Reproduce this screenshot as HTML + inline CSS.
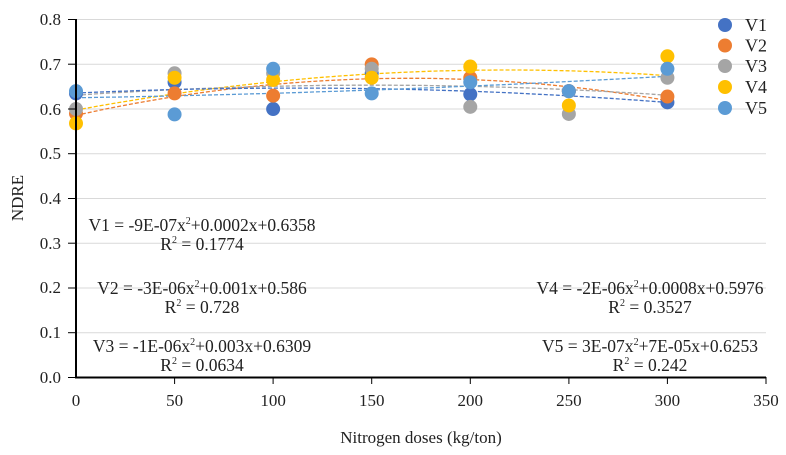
<!DOCTYPE html>
<html><head><meta charset="utf-8"><style>
html,body{margin:0;padding:0;background:#fff;}
svg{display:block;}
text{font-family:"Liberation Serif","Times New Roman",serif;}
</style></head><body>
<svg id="c" width="786" height="455" viewBox="0 0 786 455" xmlns="http://www.w3.org/2000/svg" font-family="Liberation Serif, serif">
<g stroke="#d9d9d9" stroke-width="1">
<line x1="76" y1="19.5" x2="766" y2="19.5"/>
<line x1="76" y1="64.2" x2="766" y2="64.2"/>
<line x1="76" y1="109" x2="766" y2="109"/>
<line x1="76" y1="153.7" x2="766" y2="153.7"/>
<line x1="76" y1="198.5" x2="766" y2="198.5"/>
<line x1="76" y1="243.2" x2="766" y2="243.2"/>
<line x1="76" y1="288" x2="766" y2="288"/>
<line x1="76" y1="332.7" x2="766" y2="332.7"/>
</g>
<g id="trend" fill="none" stroke-width="1.3" stroke-dasharray="4,2"></g>
<g id="pts"></g>
<g stroke="#000" stroke-width="2">
<line x1="76" y1="19" x2="76" y2="378"/>
<line x1="75" y1="377.5" x2="766" y2="377.5"/>
</g>
<g stroke="#000" stroke-width="1">
<line x1="68" y1="19.5" x2="76" y2="19.5"/><line x1="68" y1="64.2" x2="76" y2="64.2"/>
<line x1="68" y1="109" x2="76" y2="109"/><line x1="68" y1="153.7" x2="76" y2="153.7"/>
<line x1="68" y1="198.5" x2="76" y2="198.5"/><line x1="68" y1="243.2" x2="76" y2="243.2"/>
<line x1="68" y1="288" x2="76" y2="288"/><line x1="68" y1="332.7" x2="76" y2="332.7"/>
<line x1="68" y1="377.5" x2="76" y2="377.5"/>
<line x1="174.6" y1="377" x2="174.6" y2="384"/><line x1="273.1" y1="377" x2="273.1" y2="384"/>
<line x1="371.7" y1="377" x2="371.7" y2="384"/><line x1="470.3" y1="377" x2="470.3" y2="384"/>
<line x1="568.9" y1="377" x2="568.9" y2="384"/><line x1="667.4" y1="377" x2="667.4" y2="384"/>
<line x1="766" y1="377" x2="766" y2="384"/>
</g>
<g font-size="17" fill="#222" text-anchor="end">
<text x="61" y="25">0.8</text><text x="61" y="70">0.7</text><text x="61" y="115">0.6</text>
<text x="61" y="159">0.5</text><text x="61" y="204">0.4</text><text x="61" y="249">0.3</text>
<text x="61" y="293">0.2</text><text x="61" y="338">0.1</text><text x="61" y="383">0.0</text>
</g>
<g font-size="17" fill="#222" text-anchor="middle">
<text x="76" y="406">0</text><text x="174.6" y="406">50</text><text x="273.1" y="406">100</text>
<text x="371.7" y="406">150</text><text x="470.3" y="406">200</text><text x="568.9" y="406">250</text>
<text x="667.4" y="406">300</text><text x="766" y="406">350</text>
<text x="421" y="443">Nitrogen doses (kg/ton)</text>
<text transform="translate(23,198) rotate(-90)">NDRE</text>
</g>
<g font-size="17.5" fill="#222" text-anchor="middle">
<text x="202" y="231">V1 = -9E-07x<tspan font-size="10" dy="-7">2</tspan><tspan dy="7">+0.0002x+0.6358</tspan></text>
<text x="202" y="250">R<tspan font-size="10" dy="-7">2</tspan><tspan dy="7"> = 0.1774</tspan></text>
<text x="202" y="294">V2 = -3E-06x<tspan font-size="10" dy="-7">2</tspan><tspan dy="7">+0.001x+0.586</tspan></text>
<text x="202" y="313">R<tspan font-size="10" dy="-7">2</tspan><tspan dy="7"> = 0.728</tspan></text>
<text x="202" y="352">V3 = -1E-06x<tspan font-size="10" dy="-7">2</tspan><tspan dy="7">+0.003x+0.6309</tspan></text>
<text x="202" y="371">R<tspan font-size="10" dy="-7">2</tspan><tspan dy="7"> = 0.0634</tspan></text>
<text x="650" y="294">V4 = -2E-06x<tspan font-size="10" dy="-7">2</tspan><tspan dy="7">+0.0008x+0.5976</tspan></text>
<text x="650" y="313">R<tspan font-size="10" dy="-7">2</tspan><tspan dy="7"> = 0.3527</tspan></text>
<text x="650" y="352">V5 = 3E-07x<tspan font-size="10" dy="-7">2</tspan><tspan dy="7">+7E-05x+0.6253</tspan></text>
<text x="650" y="371">R<tspan font-size="10" dy="-7">2</tspan><tspan dy="7"> = 0.242</tspan></text>
</g>
<g font-size="18" fill="#222">
<circle cx="725" cy="25" r="7" fill="#4472c4"/><text x="745" y="31">V1</text>
<circle cx="725" cy="45.5" r="7" fill="#ed7d31"/><text x="745" y="51.5">V2</text>
<circle cx="725" cy="66" r="7" fill="#a5a5a5"/><text x="745" y="72">V3</text>
<circle cx="725" cy="87" r="7" fill="#ffc000"/><text x="745" y="93">V4</text>
<circle cx="725" cy="108" r="7" fill="#5b9bd5"/><text x="745" y="114">V5</text>
</g>
<script>
(function(){
var X=function(v){return 76+v*1.9714;},Y=function(v){return 377.5-v*447.4;};
var col={V1:"#4472c4",V2:"#ed7d31",V3:"#a5a5a5",V4:"#ffc000",V5:"#5b9bd5"};
var tr=[["V4",-1.883e-6,0.000822,0.5976],["V2",-2.9e-6,0.00098,0.586],["V3",-1e-6,0.0003,0.6309],["V1",-9e-7,0.0002,0.6358],["V5",3e-7,7e-5,0.6253]];
var g=document.getElementById("trend"),ns="http://www.w3.org/2000/svg";
tr.forEach(function(t){var d="";for(var x=0;x<=300;x+=5){var y=t[1]*x*x+t[2]*x+t[3];d+=(x?"L":"M")+X(x).toFixed(1)+","+Y(y).toFixed(1);}
var p=document.createElementNS(ns,"path");p.setAttribute("d",d);p.setAttribute("stroke",col[t[0]]);g.appendChild(p);});
var data={V1:[0.635,0.66,0.60,0.68,0.633,0.64,0.615],V2:[0.59,0.635,0.63,0.70,0.67,0.64,0.628],V3:[0.60,0.68,0.68,0.69,0.605,0.589,0.67],V4:[0.568,0.67,0.665,0.67,0.695,0.608,0.718],V5:[0.64,0.588,0.69,0.635,0.66,0.64,0.69]};
var order=["V1","V2","V3","V4","V5"],pg=document.getElementById("pts");
order.forEach(function(k){data[k].forEach(function(v,i){var c=document.createElementNS(ns,"circle");c.setAttribute("cx",X(i*50));c.setAttribute("cy",Y(v));c.setAttribute("r",7);c.setAttribute("fill",col[k]);pg.appendChild(c);});});
})();
</script>
</svg>
</body></html>
